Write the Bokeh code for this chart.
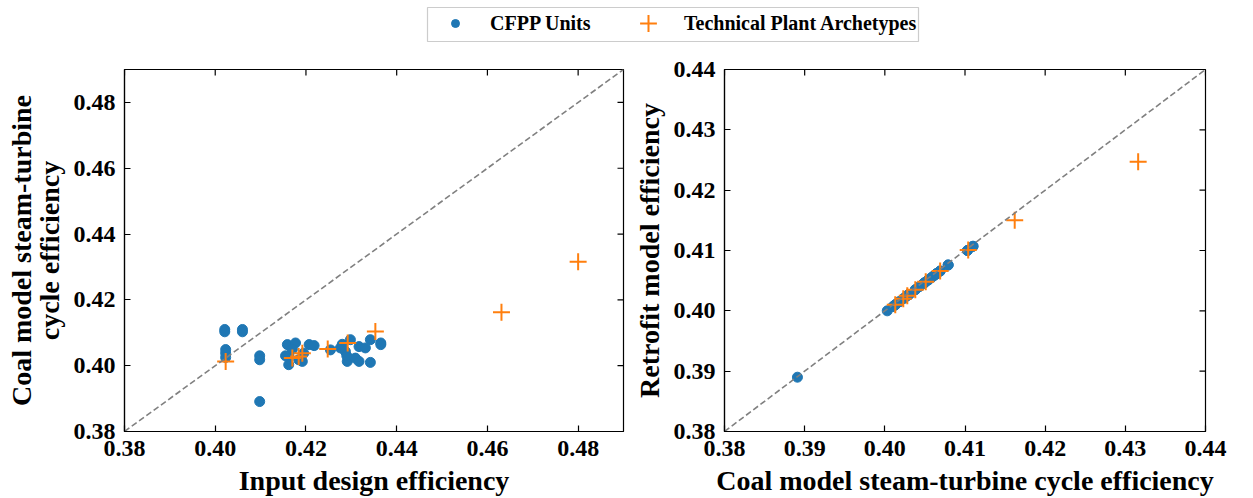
import math

from bokeh.plotting import figure
from bokeh.layouts import column, row
from bokeh.models import FixedTicker, NumeralTickFormatter, Legend, LegendItem, Range1d
from bokeh.embed import file_html
from bokeh.resources import INLINE

# CFPP units: input design efficiency, coal-model cycle efficiency, retrofit-model efficiency
unit_design = [0.4021, 0.4021, 0.4060, 0.4060, 0.4023, 0.4023, 0.4023, 0.4098, 0.4098, 0.4098,
               0.4159, 0.4162, 0.4162, 0.4155, 0.4177, 0.4184, 0.4192, 0.4207, 0.4218, 0.4195,
               0.4170, 0.4254, 0.4276, 0.4287, 0.4291, 0.4309, 0.4317, 0.4298, 0.4317, 0.4331,
               0.4342, 0.4342, 0.4365, 0.4365, 0.4290, 0.4280]
unit_coal = [0.4110, 0.4103, 0.4110, 0.4103, 0.4049, 0.4038, 0.4025, 0.4030, 0.4018, 0.3891,
             0.4064, 0.4028, 0.4003, 0.4030, 0.4069, 0.4018, 0.4013, 0.4064, 0.4061, 0.4038,
             0.4050, 0.4048, 0.4054, 0.4043, 0.4013, 0.4023, 0.4013, 0.4079, 0.4058, 0.4054,
             0.4079, 0.4010, 0.4069, 0.4064, 0.4030, 0.4065]
unit_retrofit = [0.4107, 0.4100, 0.4107, 0.4100, 0.4046, 0.4035, 0.4022, 0.4027, 0.4015, 0.3890,
                 0.4061, 0.4025, 0.4000, 0.4027, 0.4066, 0.4015, 0.4010, 0.4061, 0.4058, 0.4035,
                 0.4047, 0.4045, 0.4051, 0.4040, 0.4010, 0.4020, 0.4010, 0.4076, 0.4055, 0.4051,
                 0.4076, 0.4007, 0.4066, 0.4061, 0.4027, 0.4062]

# Technical plant archetypes
arch_design = [0.4023, 0.4170, 0.4184, 0.4192, 0.4248, 0.4292, 0.4353, 0.4631, 0.4800]
arch_coal = [0.4013, 0.4023, 0.4028, 0.4038, 0.4051, 0.4069, 0.4104, 0.4162, 0.4316]
arch_retrofit = [0.4010, 0.4020, 0.4025, 0.4035, 0.4048, 0.4066, 0.4101, 0.4150, 0.4247]

left_ticks = [0.38, 0.40, 0.42, 0.44, 0.46, 0.48]
right_ticks = [0.38, 0.39, 0.40, 0.41, 0.42, 0.43, 0.44]
left_lim = (0.38, 0.49)
right_lim = (0.38, 0.44)

BLUE = "#1f77b4"
ORANGE = "#ff7f0e"
FONT = "Liberation Serif"


def style_axis(ax, ticks):
    ax.ticker = FixedTicker(ticks=ticks)
    ax.formatter = NumeralTickFormatter(format="0.00")
    ax.axis_line_color = "black"
    ax.axis_line_width = 1.2
    ax.major_tick_line_color = "black"
    ax.major_tick_line_width = 1.2
    ax.major_tick_in = 6
    ax.major_tick_out = 0
    ax.minor_tick_line_color = None
    ax.major_label_text_font = FONT
    ax.major_label_text_font_style = "bold"
    ax.major_label_text_color = "black"
    ax.major_label_text_font_size = "24px"
    ax.major_label_standoff = 9
    ax.axis_label_text_font = FONT
    ax.axis_label_text_font_style = "bold"
    ax.axis_label_text_color = "black"
    ax.axis_label_text_font_size = "28px"
    ax.axis_label_text_line_height = 0.9
    ax.axis_label_standoff = 6


def make_panel(width, lim, ticks, xlabel, ylabel, border_left, border_right):
    p = figure(width=width, height=450, output_backend="svg", toolbar_location=None,
               x_range=Range1d(*lim), y_range=Range1d(*lim),
               min_border_left=border_left, min_border_right=border_right,
               min_border_top=21, min_border_bottom=66)
    p.grid.visible = False
    p.outline_line_color = "black"
    p.outline_line_width = 1.2
    p.background_fill_color = "white"
    p.border_fill_color = "white"
    p.xaxis.axis_label = xlabel
    p.yaxis.axis_label = ylabel
    style_axis(p.xaxis[0], ticks)
    style_axis(p.yaxis[0], ticks)
    # inward tick marks on the top and right spines (clipped to the frame, so half shows)
    lo, hi = lim
    p.scatter(ticks, [hi] * len(ticks), marker="dash", size=12, angle=math.pi / 2,
              line_color="black", line_width=1.2)
    p.scatter([hi] * len(ticks), ticks, marker="dash", size=12,
              line_color="black", line_width=1.2)
    return p


left = make_panel(630, left_lim, left_ticks, "Input design efficiency",
                  "Coal model steam-turbine\ncycle efficiency", 124, 7)
left.scatter(unit_design, unit_coal, marker="circle", size=10,
             fill_color=BLUE, line_color=BLUE)
left.scatter(arch_design, arch_coal, marker="cross", size=17,
             line_color=ORANGE, line_width=2)
left.line(list(left_lim), list(left_lim), line_color="gray", line_dash="6 3", line_width=1.6)

right_p = make_panel(623, right_lim, right_ticks, "Coal model steam-turbine cycle efficiency",
                     "Retrofit model efficiency", 92, 48)
right_p.scatter(unit_coal, unit_retrofit, marker="circle", size=10,
                fill_color=BLUE, line_color=BLUE)
right_p.scatter(arch_coal, arch_retrofit, marker="cross", size=17,
                line_color=ORANGE, line_width=2)
right_p.line(list(right_lim), list(right_lim), line_color="gray", line_dash="6 3", line_width=1.6)

# Shared legend strip across the top. The strip's frame is the legend box; its series
# sit outside the strip's own ranges, so only the legend entries are visible.
leg = figure(width=1253, height=48, output_backend="svg", toolbar_location=None,
             x_range=Range1d(1, 2), y_range=Range1d(1, 2),
             min_border_left=427, min_border_right=335, min_border_top=7, min_border_bottom=7,
             outline_line_color="#cccccc", outline_line_width=1.2)
leg.axis.visible = False
leg.grid.visible = False
r_units = leg.scatter(unit_design, unit_coal, marker="circle", size=8,
                      fill_color=BLUE, line_color=BLUE)
r_arch = leg.scatter(arch_design, arch_coal, marker="cross", size=17,
                     line_color=ORANGE, line_width=2)

legend_style = dict(orientation="horizontal", padding=0, spacing=0, margin=0,
                    label_text_font=FONT, label_text_font_style="bold",
                    label_text_font_size="20px", label_text_color="black",
                    border_line_color=None, background_fill_alpha=0)
leg.add_layout(Legend(items=[LegendItem(label="CFPP Units", renderers=[r_units])],
                      location=(18, -3), glyph_width=20, glyph_height=42,
                      label_standoff=25, **legend_style), "center")
leg.add_layout(Legend(items=[LegendItem(label="Technical Plant Archetypes", renderers=[r_arch])],
                      location=(200, -3), glyph_width=42, glyph_height=42,
                      label_standoff=15, **legend_style), "center")

layout = column(leg, row(left, right_p, spacing=0), spacing=0)

open("out.html", "w").write(file_html(layout, INLINE))
